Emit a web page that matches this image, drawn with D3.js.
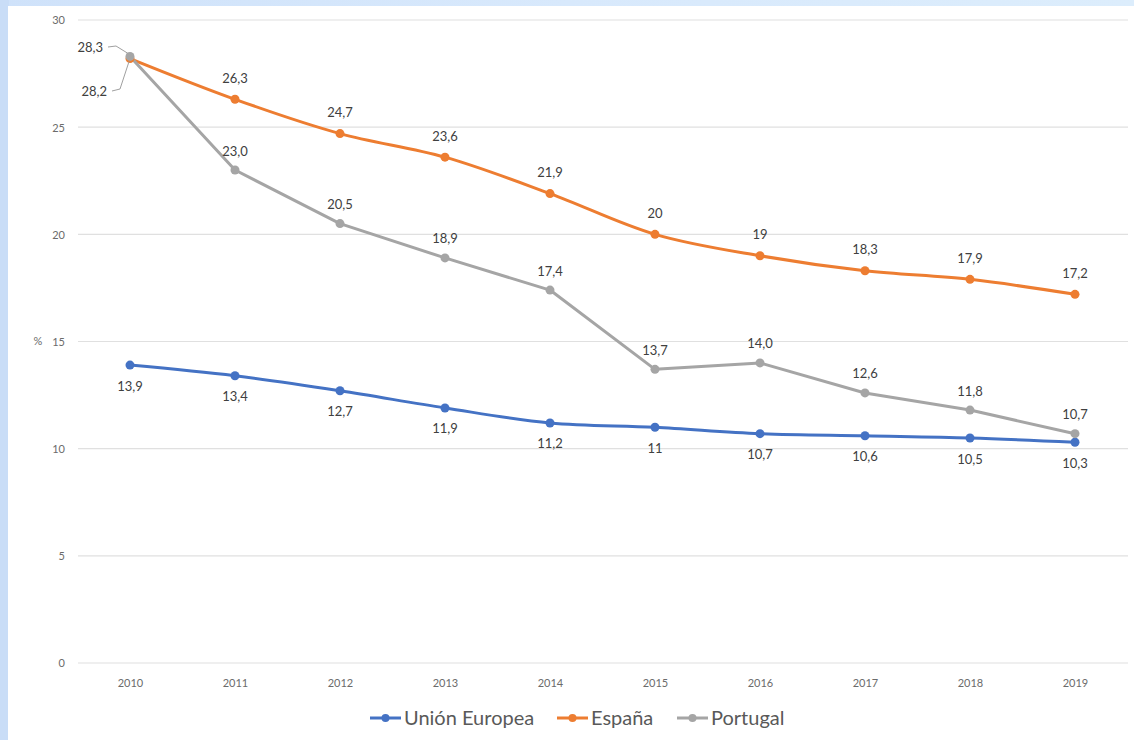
<!DOCTYPE html>
<html><head><meta charset="utf-8">
<script src="https://cdn.jsdelivr.net/npm/d3@7"></script>
<style>
html,body{margin:0;padding:0;background:#fff;}
svg{display:block;}
</style></head>
<body>
<svg id="chart" width="1134" height="740"></svg>
<script>
const years = ["2010","2011","2012","2013","2014","2015","2016","2017","2018","2019"];
const ueValues = [13.9,13.4,12.7,11.9,11.2,11,10.7,10.6,10.5,10.3];
const esValues = [28.2,26.3,24.7,23.6,21.9,20,19,18.3,17.9,17.2];
const ptValues = [28.3,23.0,20.5,18.9,17.4,13.7,14.0,12.6,11.8,10.7];
const ueLabels = ["13,9","13,4","12,7","11,9","11,2","11","10,7","10,6","10,5","10,3"];
const esLabels = ["28,2","26,3","24,7","23,6","21,9","20","19","18,3","17,9","17,2"];
const ptLabels = ["28,3","23,0","20,5","18,9","17,4","13,7","14,0","12,6","11,8","10,7"];
const yTicks = [0,5,10,15,20,25,30];
const seriesNames = ["Unión Europea","España","Portugal"];

const svg = d3.select("#chart");
const W = 1134, H = 740;
const FONT = "Lato, 'Open Sans', sans-serif";

// background frame
const defs = svg.append("defs");
const gTop = defs.append("linearGradient").attr("id","gtop").attr("x1","0").attr("x2","1");
gTop.append("stop").attr("offset","0").attr("stop-color","#cfe2fa");
gTop.append("stop").attr("offset","0.5").attr("stop-color","#d8e9fc");
gTop.append("stop").attr("offset","1").attr("stop-color","#dcedfc");
svg.append("rect").attr("x",0).attr("y",0).attr("width",W).attr("height",H).attr("fill","url(#gtop)");
svg.append("rect").attr("x",0).attr("y",0).attr("width",9).attr("height",H).attr("fill","#c9ddf7");
svg.append("rect").attr("x",8).attr("y",6).attr("width",W-8).attr("height",H-6).attr("fill","#ffffff");

const x = d3.scalePoint().domain(years).range([130,1075]);
const y = d3.scaleLinear().domain([0,30]).range([663,20]);

// gridlines
svg.append("g").selectAll("line").data(yTicks).join("line")
  .attr("x1",78).attr("x2",1128)
  .attr("y1",d=>y(d)).attr("y2",d=>y(d))
  .attr("stroke","#e0e0e0").attr("stroke-width",1.2);

// y axis labels
const yAxis = d3.axisLeft(y).tickValues(yTicks).tickSize(0).tickPadding(0).tickFormat(d=>String(d));
const yg = svg.append("g").attr("transform","translate(65,0)").call(yAxis);
yg.select(".domain").remove();
yg.selectAll("text").attr("font-family",FONT).attr("font-size",11).attr("fill","#6b6b6b").attr("dy","0.35em");

svg.append("text").attr("x",38).attr("y",y(15)).attr("dy","0.35em")
  .attr("text-anchor","middle").attr("font-family",FONT).attr("font-size",11).attr("fill","#6b6b6b").text("%");

// x axis labels
const xAxis = d3.axisBottom(x).tickSize(0).tickPadding(0);
const xg = svg.append("g").attr("transform","translate(0,683)").call(xAxis);
xg.select(".domain").remove();
xg.selectAll("text").attr("font-family",FONT).attr("font-size",11).attr("fill","#6b6b6b").attr("dy","0.35em");

const series = [
  {name:seriesNames[0], values:ueValues, labels:ueLabels, color:"#4472C4", curve:d3.curveCatmullRom.alpha(0.5), off:21, skipFirst:false},
  {name:seriesNames[1], values:esValues, labels:esLabels, color:"#ED7D31", curve:d3.curveCatmullRom.alpha(0.5), off:-21, skipFirst:true},
  {name:seriesNames[2], values:ptValues, labels:ptLabels, color:"#A5A5A5", curve:d3.curveLinear, off:-19, skipFirst:true}
];

series.forEach(s=>{
  const line = d3.line().x((d,i)=>x(years[i])).y(d=>y(d)).curve(s.curve);
  svg.append("path").datum(s.values).attr("d",line)
    .attr("fill","none").attr("stroke",s.color).attr("stroke-width",3).attr("stroke-linejoin","round");
});
// markers
series.forEach(s=>{
  svg.append("g").selectAll("circle").data(s.values).join("circle")
    .attr("cx",(d,i)=>x(years[i])).attr("cy",d=>y(d)).attr("r",4.5).attr("fill",s.color);
});

// data labels
series.forEach(s=>{
  const items = s.values.map((v,i)=>({v,i})).filter(d=>!(s.skipFirst && d.i===0));
  svg.append("g").selectAll("text").data(items).join("text")
    .attr("x",d=>x(years[d.i])).attr("y",d=>y(d.v)+s.off).attr("dy","0.35em")
    .attr("text-anchor","middle").attr("font-family",FONT)
    .attr("font-size",13).attr("fill","#404040")
    .text(d=>s.labels[d.i]);
});

// 2010 labels with leader lines
const px0 = x(years[0]);
svg.append("text").attr("x",103).attr("y",47).attr("dy","0.35em").attr("text-anchor","end")
  .attr("font-family",FONT).attr("font-size",13).attr("fill","#404040").text(ptLabels[0]);
svg.append("text").attr("x",107).attr("y",91).attr("dy","0.35em").attr("text-anchor","end")
  .attr("font-family",FONT).attr("font-size",13).attr("fill","#404040").text(esLabels[0]);
svg.append("polyline").attr("points",`108,47 116,46 ${px0-2},${y(ptValues[0])-3}`)
  .attr("fill","none").attr("stroke","#a0a0a0").attr("stroke-width",1);
svg.append("polyline").attr("points",`112,91 120,89 ${px0-1},${y(esValues[0])+3}`)
  .attr("fill","none").attr("stroke","#a0a0a0").attr("stroke-width",1);

// legend
const legend = svg.append("g").attr("transform","translate(0,718)");
const legX = [370,557,677];
series.forEach((s,i)=>{
  const g = legend.append("g").attr("transform",`translate(${legX[i]},0)`);
  g.append("line").attr("x1",0).attr("x2",31).attr("y1",0).attr("y2",0).attr("stroke",s.color).attr("stroke-width",3);
  g.append("circle").attr("cx",15.5).attr("cy",0).attr("r",4).attr("fill",s.color);
  g.append("text").attr("x",34).attr("y",0).attr("dy","0.35em")
    .attr("font-family",FONT).attr("font-size",20).attr("fill","#595959").text(s.name);
});
</script>
</body></html>
